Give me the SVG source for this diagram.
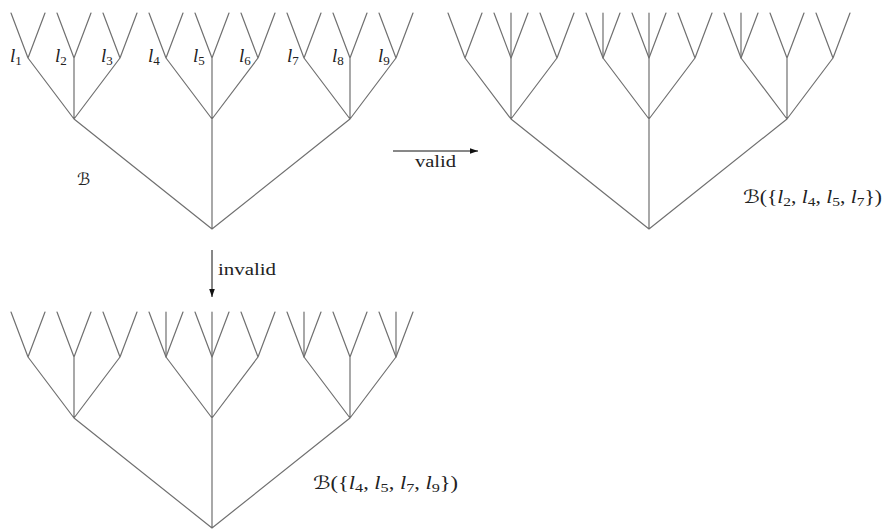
<svg xmlns="http://www.w3.org/2000/svg" xmlns:xlink="http://www.w3.org/1999/xlink" width="893" height="529" viewBox="0 0 893 529">
<style>
.e{fill:none;stroke:#707070;stroke-width:1.2;stroke-linecap:round;stroke-linejoin:round}
.c{stroke:#111;stroke-width:1;fill:none}
.t{font-family:"Liberation Serif","DejaVu Serif",serif;fill:#222}
.lab{font-size:19px;font-style:italic}
.it{font-style:italic}
.sub{font-size:13px;font-style:normal}
.lbl{font-size:18px}
.lbl .sub{font-size:13px}
.cal{font-family:"DejaVu Serif","DejaVu Sans",serif;font-style:normal}
</style>
<defs>
<marker id="ah" viewBox="0 0 10 10" refX="10" refY="5" markerWidth="8" markerHeight="8" markerUnits="userSpaceOnUse" orient="auto">
<path d="M0,1.5L10,5L0,8.5z" fill="#111"/>
</marker>
<path id="base" class="e" d="M74,119L212,229L350,119M212,119V229M28,58L74,119L120,58M74,58V119M166,58L212,119L258,58M212,58V119M304,58L350,119L396,58M350,58V119M11,13L28,58L45,13M57,13L74,58L91,13M103,13L120,58L137,13M149,13L166,58L183,13M195,13L212,58L229,13M241,13L258,58L275,13M287,13L304,58L321,13M333,13L350,58L367,13M379,13L396,58L413,13"/>
</defs>
<g id="tree-B">
<use xlink:href="#base"/>
<g class="t lab">
<text x="10" y="62">l<tspan class="sub" dy="3">1</tspan></text>
<text x="55" y="62">l<tspan class="sub" dy="3">2</tspan></text>
<text x="101" y="62">l<tspan class="sub" dy="3">3</tspan></text>
<text x="148" y="62">l<tspan class="sub" dy="3">4</tspan></text>
<text x="193" y="62">l<tspan class="sub" dy="3">5</tspan></text>
<text x="239" y="62">l<tspan class="sub" dy="3">6</tspan></text>
<text x="287" y="62">l<tspan class="sub" dy="3">7</tspan></text>
<text x="332" y="62">l<tspan class="sub" dy="3">8</tspan></text>
<text x="378" y="62">l<tspan class="sub" dy="3">9</tspan></text>
</g>
<text class="t cal" x="77" y="185" style="font-size:17px">ℬ</text>
</g>
<g id="tree-valid" transform="translate(437,0)">
<use xlink:href="#base"/>
<path class="e" d="M74,13V58M166,13V58M212,13V58M304,13V58"/>
</g>
<g id="tree-invalid" transform="translate(0,299)">
<use xlink:href="#base"/>
<path class="e" d="M166,13V58M212,13V58M304,13V58M396,13V58"/>
</g>
<g id="label-valid">
<text class="t lbl" x="743" y="203" textLength="139" lengthAdjust="spacingAndGlyphs"><tspan class="cal">ℬ</tspan>({<tspan class="it">l</tspan><tspan class="sub" dy="3">2</tspan><tspan dy="-3">, </tspan><tspan class="it">l</tspan><tspan class="sub" dy="3">4</tspan><tspan dy="-3">, </tspan><tspan class="it">l</tspan><tspan class="sub" dy="3">5</tspan><tspan dy="-3">, </tspan><tspan class="it">l</tspan><tspan class="sub" dy="3">7</tspan><tspan dy="-3">})</tspan></text>
</g>
<g id="label-invalid">
<text class="t lbl" x="313" y="489" textLength="145" lengthAdjust="spacingAndGlyphs"><tspan class="cal">ℬ</tspan>({<tspan class="it">l</tspan><tspan class="sub" dy="3">4</tspan><tspan dy="-3">, </tspan><tspan class="it">l</tspan><tspan class="sub" dy="3">5</tspan><tspan dy="-3">, </tspan><tspan class="it">l</tspan><tspan class="sub" dy="3">7</tspan><tspan dy="-3">, </tspan><tspan class="it">l</tspan><tspan class="sub" dy="3">9</tspan><tspan dy="-3">})</tspan></text>
</g>
<g id="connectors">
<line class="c" x1="393" y1="151" x2="478" y2="151" marker-end="url(#ah)"/>
<text class="t" x="415" y="167" style="font-size:16px" textLength="41" lengthAdjust="spacingAndGlyphs">valid</text>
<line class="c" x1="212" y1="250" x2="212" y2="297" marker-end="url(#ah)"/>
<text class="t" x="218" y="275" style="font-size:16px" textLength="58" lengthAdjust="spacingAndGlyphs">invalid</text>
</g>
</svg>
